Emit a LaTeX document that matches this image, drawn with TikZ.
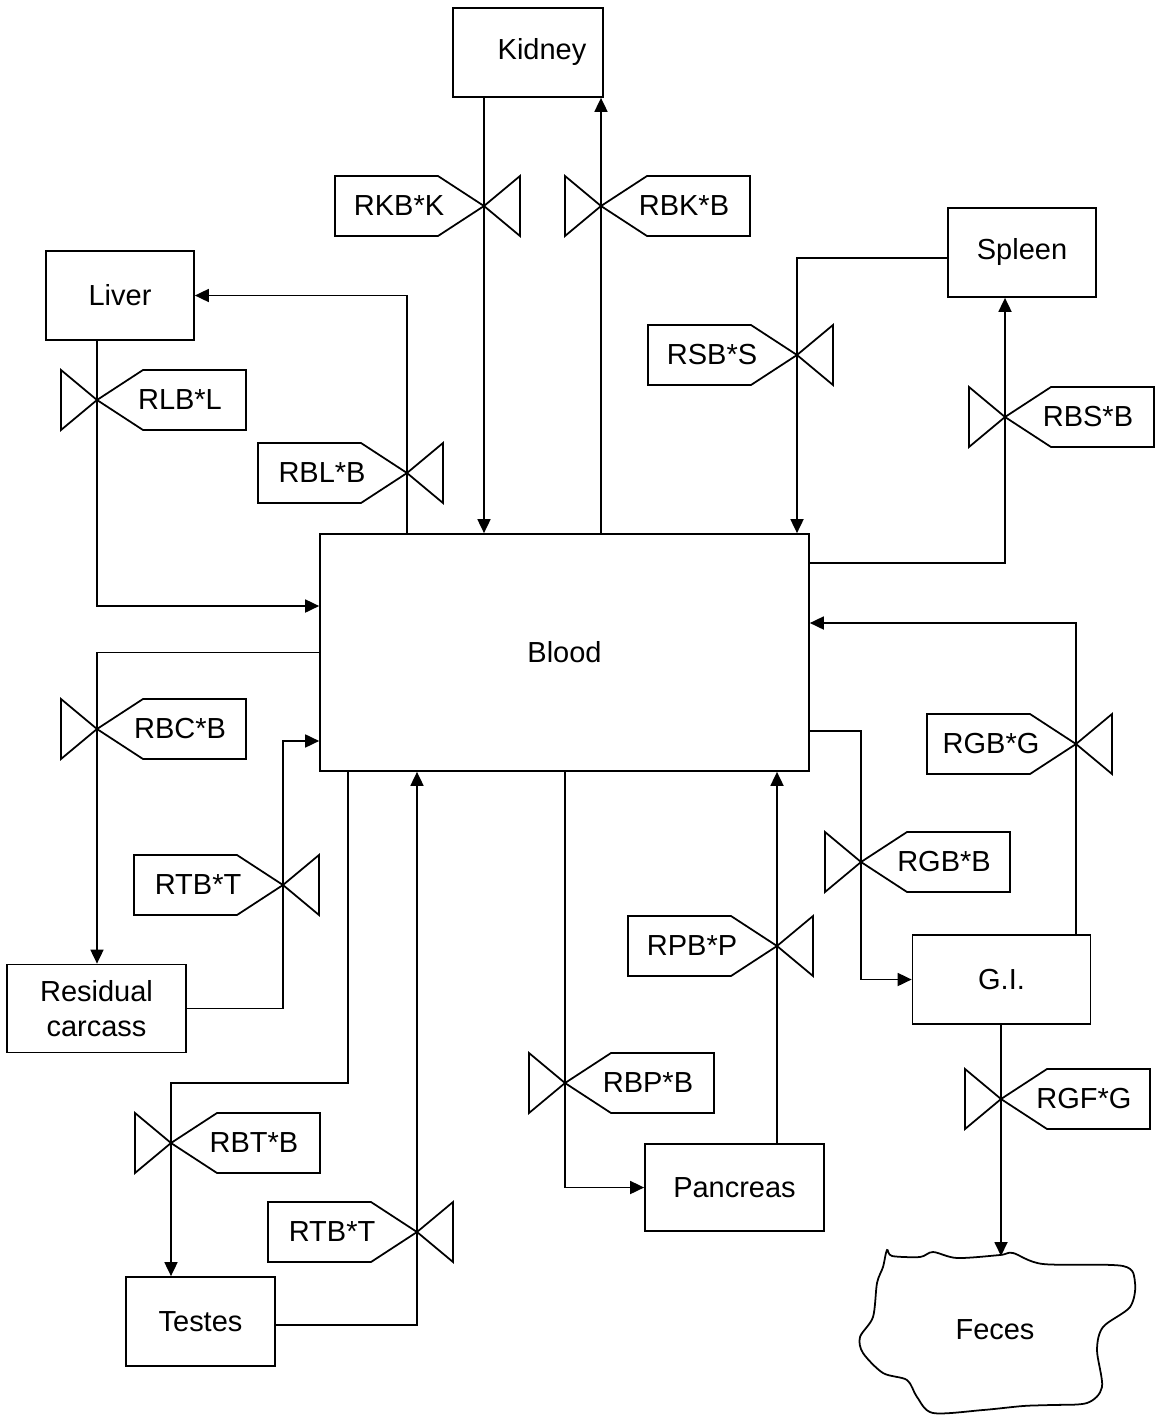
\documentclass[tikz,border=0pt]{standalone}
\usepackage{fontspec}
\setmainfont{Liberation Sans}
\usetikzlibrary{arrows.meta}

\tikzset{
  box/.style={draw, line width=1pt, inner sep=0pt, align=center},
  flow/.style={line width=1pt, ->},
  vbox/.style={line width=1pt, line join=miter},
  vlabel/.style={inner sep=0pt}
}
% valve with its label on the left (#1 name, #2 position, #3 text)
\newcommand{\valveL}[3]{%
  \coordinate (#1) at (#2);
  \draw[vbox] (#1) -- ++(-46,-30) -- ++(-103,0) -- ++(0,60) -- ++(103,0) -- cycle;
  \draw[vbox] (#1) -- ++(36,-30) -- ++(0,60) -- cycle;
  \node[vlabel, xshift=-1.7cm] (#1-lbl) at (#1) {#3};
}
% valve with its label on the right
\newcommand{\valveR}[3]{%
  \coordinate (#1) at (#2);
  \draw[vbox] (#1) -- ++(46,-30) -- ++(103,0) -- ++(0,60) -- ++(-103,0) -- cycle;
  \draw[vbox] (#1) -- ++(-36,-30) -- ++(0,60) -- cycle;
  \node[vlabel, xshift=1.66cm] (#1-lbl) at (#1) {#3};
}

\begin{document}
\begin{tikzpicture}[>={Triangle[length=2.8mm,width=2.6mm]}, x=0.02cm, y=-0.02cm,
  font=\fontsize{16.5}{19.5}\selectfont]
\useasboundingbox (0,0) rectangle (1154,1416);

% compartments
\node[box, minimum width=3cm, minimum height=1.78cm] (kidney) at (528,52.5) {\hspace*{0.56cm}Kidney};
\node[box, minimum width=2.96cm, minimum height=1.78cm] (liver) at (120,295.5) {Liver};
\node[box, minimum width=2.96cm, minimum height=1.78cm] (spleen) at (1022,252.5) {Spleen};
\node[box, minimum width=9.78cm, minimum height=4.74cm] (blood) at (564.5,652.5) {Blood};
\node[box, minimum width=3.58cm, minimum height=1.76cm] (carcass) at (96.5,1008.5) {Residual\\carcass};
\node[box, minimum width=3.56cm, minimum height=1.78cm] (gi) at (1001.5,979.5) {G.I.};
\node[box, minimum width=3.58cm, minimum height=1.74cm] (pancreas) at (734.5,1187.5) {Pancreas};
\node[box, minimum width=2.98cm, minimum height=1.78cm] (testes) at (200.5,1321.5) {Testes};

% feces
\draw[line width=1pt] plot[smooth cycle, tension=0.5] coordinates {
  (887,1250) (892,1256) (920,1257) (933,1252) (957,1258) (1000,1255)
  (1013,1253) (1043,1264) (1123,1266) (1135,1283) (1130,1307) (1103,1327)
  (1097,1350) (1102,1387) (1087,1403) (1050,1405) (1023,1406) (983,1410)
  (933,1413) (917,1397) (907,1380) (883,1373) (863,1353) (860,1337)
  (873,1317) (877,1283) (883,1267)};
\node (feces) at (995,1330) {Feces};
\coordinate (fecestop) at (1001,1256);

% kidney
\valveL{kbv}{484,206}{RKB*K}
\draw[flow] (kidney.south -| kbv) -- (blood.north -| kbv);
\valveR{bkv}{601,206}{RBK*B}
\draw[flow] (blood.north -| bkv) -- (kidney.south -| bkv);

% liver
\valveL{blv}{407,473}{RBL*B}
\draw[flow] (blood.north -| blv) |- (liver.east);
\valveR{lbv}{97,400}{RLB*L}
\draw[flow] (liver.south -| lbv) |- ([yshift=0.93cm]blood.west);

% spleen
\valveL{sbv}{797,355}{RSB*S}
\draw[flow] ([yshift=-0.11cm]spleen.west) -| (blood.north -| sbv);
\valveR{bsv}{1005,417}{RBS*B}
\draw[flow] ([yshift=1.79cm]blood.east) -| (spleen.south -| bsv);

% residual carcass
\valveR{bcv}{97,729}{RBC*B}
\draw[flow] (blood.west) -| (carcass.north -| bcv);
\valveL{cbv}{283,885}{RTB*T}
\draw[flow] (carcass.east) -| (cbv) |- ([yshift=-1.77cm]blood.west);

% testes
\valveR{btv}{171,1143}{RBT*B}
\draw[flow] ([xshift=0.58cm]blood.south west) -- ++(0,311) -| (testes.north -| btv);
\valveL{tbv}{417,1232}{RTB*T}
\draw[flow] ([yshift=-0.07cm]testes.east) -| (blood.south -| tbv);

% pancreas
\valveR{bpv}{565,1083}{RBP*B}
\draw[flow] (blood.south -| bpv) |- (pancreas.west);
\valveL{pbv}{777,946}{RPB*P}
\draw[flow] (pancreas.north -| pbv) -- (blood.south -| pbv);

% G.I.
\valveR{bgv}{861,862}{RGB*B}
\draw[flow] ([yshift=-1.57cm]blood.east) -| (bgv) |- (gi.west);
\valveL{gbv}{1076,744}{RGB*G}
\draw[flow] (gi.north -| gbv) |- ([yshift=0.59cm]blood.east);
\valveR{gfv}{1001,1099}{RGF*G}
\draw[flow] (gi.south -| gfv) -- (fecestop);
\end{tikzpicture}
\end{document}
